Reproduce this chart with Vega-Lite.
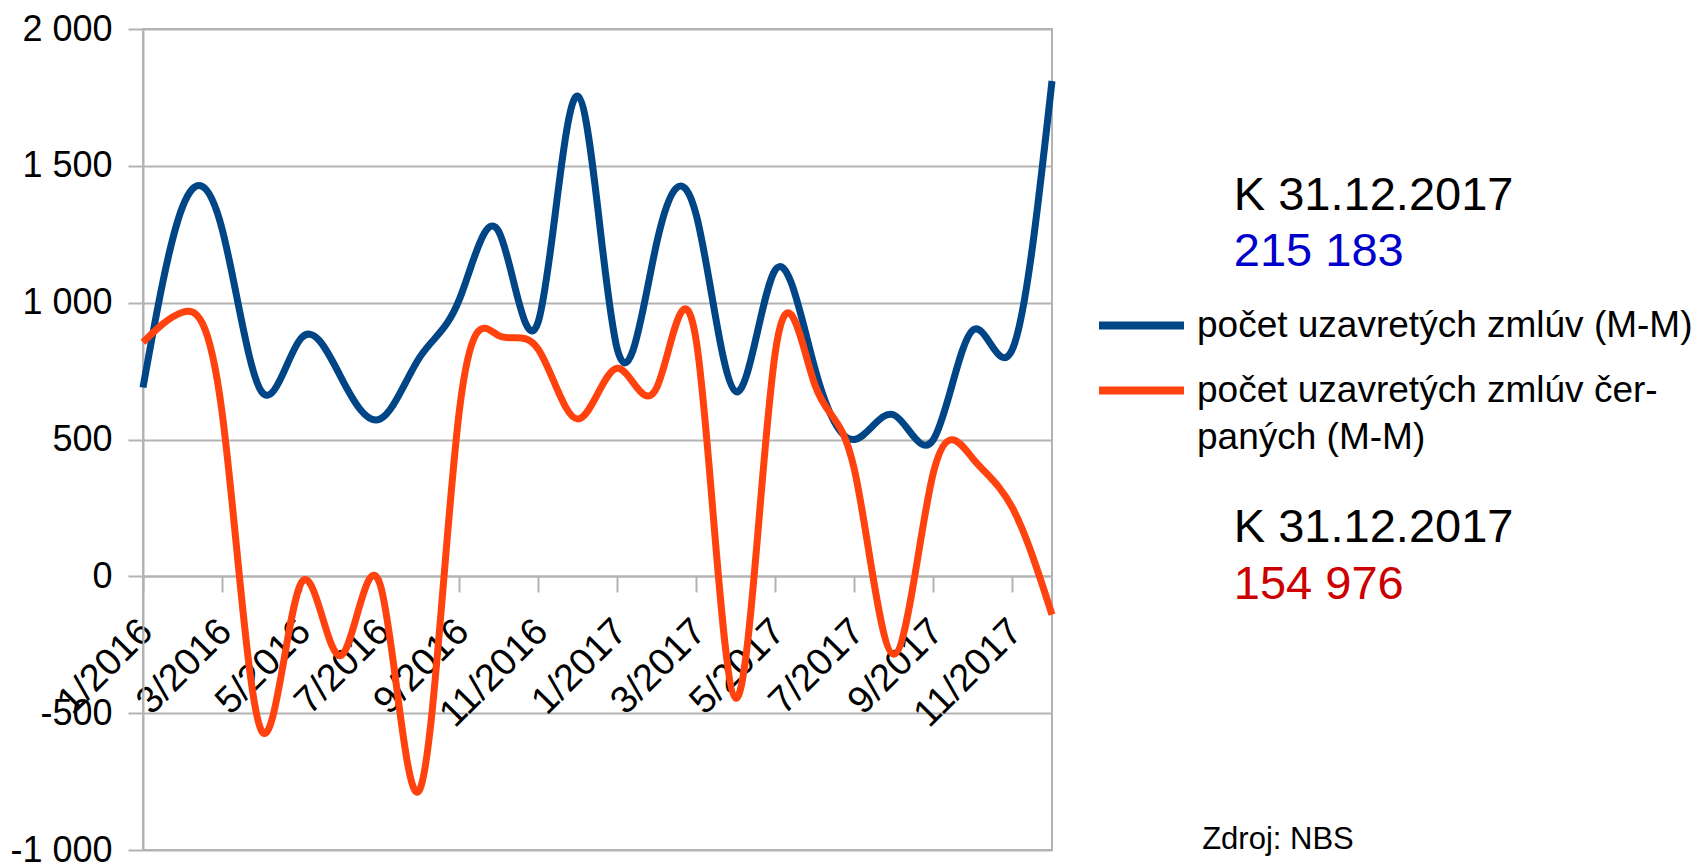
{
  "$schema": "https://vega.github.io/schema/vega-lite/v6.json",
  "width": 909,
  "height": 821,
  "autosize": {"type": "none"},
  "padding": {"left": 143, "top": 29, "right": 654, "bottom": 16},
  "background": "white",
  "config": {
    "font": "Liberation Sans",
    "view": {"stroke": "#b3b3b3", "strokeWidth": 2},
    "style": {"guide-label": {"lineHeight": 47}}
  },
  "data": {
    "values": [
      {"mesiac": "1/2016", "poradie": 0, "seria": "počet uzavretých zmlúv (M-M)", "pocet": 690},
      {"mesiac": "2/2016", "poradie": 1, "seria": "počet uzavretých zmlúv (M-M)", "pocet": 1350},
      {"mesiac": "3/2016", "poradie": 2, "seria": "počet uzavretých zmlúv (M-M)", "pocet": 1270},
      {"mesiac": "4/2016", "poradie": 3, "seria": "počet uzavretých zmlúv (M-M)", "pocet": 675},
      {"mesiac": "5/2016", "poradie": 4, "seria": "počet uzavretých zmlúv (M-M)", "pocet": 870},
      {"mesiac": "6/2016", "poradie": 5, "seria": "počet uzavretých zmlúv (M-M)", "pocet": 730},
      {"mesiac": "7/2016", "poradie": 6, "seria": "počet uzavretých zmlúv (M-M)", "pocet": 575},
      {"mesiac": "8/2016", "poradie": 7, "seria": "počet uzavretých zmlúv (M-M)", "pocet": 800},
      {"mesiac": "9/2016", "poradie": 8, "seria": "počet uzavretých zmlúv (M-M)", "pocet": 1010},
      {"mesiac": "10/2016", "poradie": 9, "seria": "počet uzavretých zmlúv (M-M)", "pocet": 1260},
      {"mesiac": "11/2016", "poradie": 10, "seria": "počet uzavretých zmlúv (M-M)", "pocet": 930},
      {"mesiac": "12/2016", "poradie": 11, "seria": "počet uzavretých zmlúv (M-M)", "pocet": 1755},
      {"mesiac": "1/2017", "poradie": 12, "seria": "počet uzavretých zmlúv (M-M)", "pocet": 830},
      {"mesiac": "2/2017", "poradie": 13, "seria": "počet uzavretých zmlúv (M-M)", "pocet": 1220},
      {"mesiac": "3/2017", "poradie": 14, "seria": "počet uzavretých zmlúv (M-M)", "pocet": 1320},
      {"mesiac": "4/2017", "poradie": 15, "seria": "počet uzavretých zmlúv (M-M)", "pocet": 675},
      {"mesiac": "5/2017", "poradie": 16, "seria": "počet uzavretých zmlúv (M-M)", "pocet": 1120},
      {"mesiac": "6/2017", "poradie": 17, "seria": "počet uzavretých zmlúv (M-M)", "pocet": 760},
      {"mesiac": "7/2017", "poradie": 18, "seria": "počet uzavretých zmlúv (M-M)", "pocet": 500},
      {"mesiac": "8/2017", "poradie": 19, "seria": "počet uzavretých zmlúv (M-M)", "pocet": 590},
      {"mesiac": "9/2017", "poradie": 20, "seria": "počet uzavretých zmlúv (M-M)", "pocet": 500},
      {"mesiac": "10/2017", "poradie": 21, "seria": "počet uzavretých zmlúv (M-M)", "pocet": 900},
      {"mesiac": "11/2017", "poradie": 22, "seria": "počet uzavretých zmlúv (M-M)", "pocet": 830},
      {"mesiac": "12/2017", "poradie": 23, "seria": "počet uzavretých zmlúv (M-M)", "pocet": 1810},
      {"mesiac": "1/2016", "poradie": 0, "seria": "počet uzavretých zmlúv čerpaných (M-M)", "pocet": 855},
      {"mesiac": "2/2016", "poradie": 1, "seria": "počet uzavretých zmlúv čerpaných (M-M)", "pocet": 965},
      {"mesiac": "3/2016", "poradie": 2, "seria": "počet uzavretých zmlúv čerpaných (M-M)", "pocet": 600},
      {"mesiac": "4/2016", "poradie": 3, "seria": "počet uzavretých zmlúv čerpaných (M-M)", "pocet": -565},
      {"mesiac": "5/2016", "poradie": 4, "seria": "počet uzavretých zmlúv čerpaných (M-M)", "pocet": -25},
      {"mesiac": "6/2016", "poradie": 5, "seria": "počet uzavretých zmlúv čerpaných (M-M)", "pocet": -290},
      {"mesiac": "7/2016", "poradie": 6, "seria": "počet uzavretých zmlúv čerpaných (M-M)", "pocet": -30},
      {"mesiac": "8/2016", "poradie": 7, "seria": "počet uzavretých zmlúv čerpaných (M-M)", "pocet": -780},
      {"mesiac": "9/2016", "poradie": 8, "seria": "počet uzavretých zmlúv čerpaných (M-M)", "pocet": 600},
      {"mesiac": "10/2016", "poradie": 9, "seria": "počet uzavretých zmlúv čerpaných (M-M)", "pocet": 880},
      {"mesiac": "11/2016", "poradie": 10, "seria": "počet uzavretých zmlúv čerpaných (M-M)", "pocet": 830},
      {"mesiac": "12/2016", "poradie": 11, "seria": "počet uzavretých zmlúv čerpaných (M-M)", "pocet": 575},
      {"mesiac": "1/2017", "poradie": 12, "seria": "počet uzavretých zmlúv čerpaných (M-M)", "pocet": 760},
      {"mesiac": "2/2017", "poradie": 13, "seria": "počet uzavretých zmlúv čerpaných (M-M)", "pocet": 690},
      {"mesiac": "3/2017", "poradie": 14, "seria": "počet uzavretých zmlúv čerpaných (M-M)", "pocet": 860},
      {"mesiac": "4/2017", "poradie": 15, "seria": "počet uzavretých zmlúv čerpaných (M-M)", "pocet": -445},
      {"mesiac": "5/2017", "poradie": 16, "seria": "počet uzavretých zmlúv čerpaných (M-M)", "pocet": 820},
      {"mesiac": "6/2017", "poradie": 17, "seria": "počet uzavretých zmlúv čerpaných (M-M)", "pocet": 700},
      {"mesiac": "7/2017", "poradie": 18, "seria": "počet uzavretých zmlúv čerpaných (M-M)", "pocet": 390},
      {"mesiac": "8/2017", "poradie": 19, "seria": "počet uzavretých zmlúv čerpaných (M-M)", "pocet": -285},
      {"mesiac": "9/2017", "poradie": 20, "seria": "počet uzavretých zmlúv čerpaných (M-M)", "pocet": 380},
      {"mesiac": "10/2017", "poradie": 21, "seria": "počet uzavretých zmlúv čerpaných (M-M)", "pocet": 430},
      {"mesiac": "11/2017", "poradie": 22, "seria": "počet uzavretých zmlúv čerpaných (M-M)", "pocet": 250},
      {"mesiac": "12/2017", "poradie": 23, "seria": "počet uzavretých zmlúv čerpaných (M-M)", "pocet": -140}
    ]
  },
  "layer": [
    {
      "mark": {"type": "line", "interpolate": "natural", "strokeWidth": 7},
      "encoding": {
        "x": {
          "field": "poradie",
          "type": "quantitative",
          "scale": {"domain": [0, 23], "nice": false, "zero": false},
          "axis": {
            "title": null,
            "values": [0, 1, 2, 3, 4, 5, 6, 7, 8, 9, 10, 11, 12, 13, 14, 15, 16, 17, 18, 19, 20, 21, 22, 23],
            "offset": -274,
            "grid": false,
            "domainColor": "#b3b3b3",
            "domainWidth": 2,
            "tickColor": "#b3b3b3",
            "tickWidth": 2,
            "tickSize": 16,
            "labelAngle": -45,
            "labelAlign": "right",
            "labelBaseline": "top",
            "labelFontSize": 38,
            "labelColor": "black",
            "labelPadding": 20,
            "labelOffset": -10,
            "labelFlush": false,
            "labelOverlap": false,
            "labelExpr": "datum.value % 2 == 0 ? ((datum.value % 12) + 1) + '/' + (2016 + floor(datum.value / 12)) : ''"
          }
        },
        "y": {
          "field": "pocet",
          "type": "quantitative",
          "scale": {"domain": [-1000, 2000], "nice": false},
          "axis": {
            "title": null,
            "values": [-1000, -500, 0, 500, 1000, 1500, 2000],
            "grid": true,
            "gridColor": "#b3b3b3",
            "gridWidth": 2,
            "domainColor": "#b3b3b3",
            "domainWidth": 2,
            "tickColor": "#b3b3b3",
            "tickWidth": 2,
            "tickSize": 15,
            "labelFontSize": 36,
            "labelColor": "black",
            "labelPadding": 16,
            "labelFlush": false,
            "labelOverlap": false,
            "labelExpr": "replace(replace(format(datum.value, ','), ',', ' '), '−', '-')"
          }
        },
        "color": {
          "field": "seria",
          "type": "nominal",
          "scale": {
            "domain": ["počet uzavretých zmlúv (M-M)", "počet uzavretých zmlúv čerpaných (M-M)"],
            "range": ["#004586", "#ff420e"]
          },
          "legend": {
            "orient": "none",
            "legendX": 952,
            "legendY": 250,
            "title": null,
            "padding": 0,
            "symbolType": "stroke",
            "symbolSize": 7225,
            "symbolStrokeWidth": 8,
            "labelFontSize": 37,
            "labelColor": "black",
            "labelOffset": 9,
            "labelLimit": 800,
            "rowPadding": -8,
            "labelBaseline": "middle",
            "labelExpr": "datum.label == 'počet uzavretých zmlúv čerpaných (M-M)' ? ['počet uzavretých zmlúv čer-', 'paných (M-M)'] : datum.label"
          }
        }
      }
    },
    {
      "data": {"values": [{}]},
      "mark": {"type": "text", "text": "K 31.12.2017", "fontSize": 47, "align": "left", "baseline": "alphabetic", "color": "black"},
      "encoding": {"x": {"datum": 27.6, "type": "quantitative"}, "y": {"datum": 1339, "type": "quantitative"}}
    },
    {
      "data": {"values": [{}]},
      "mark": {"type": "text", "text": "215 183", "fontSize": 47, "align": "left", "baseline": "alphabetic", "color": "#0000cc"},
      "encoding": {"x": {"datum": 27.6, "type": "quantitative"}, "y": {"datum": 1134, "type": "quantitative"}}
    },
    {
      "data": {"values": [{}]},
      "mark": {"type": "text", "text": "K 31.12.2017", "fontSize": 47, "align": "left", "baseline": "alphabetic", "color": "black"},
      "encoding": {"x": {"datum": 27.6, "type": "quantitative"}, "y": {"datum": 127, "type": "quantitative"}}
    },
    {
      "data": {"values": [{}]},
      "mark": {"type": "text", "text": "154 976", "fontSize": 47, "align": "left", "baseline": "alphabetic", "color": "#cc0000"},
      "encoding": {"x": {"datum": 27.6, "type": "quantitative"}, "y": {"datum": -83, "type": "quantitative"}}
    },
    {
      "data": {"values": [{}]},
      "mark": {"type": "text", "text": "Zdroj: NBS", "fontSize": 31, "align": "left", "baseline": "alphabetic", "color": "black"},
      "encoding": {"x": {"datum": 26.8, "type": "quantitative"}, "y": {"datum": -996, "type": "quantitative"}}
    }
  ]
}
